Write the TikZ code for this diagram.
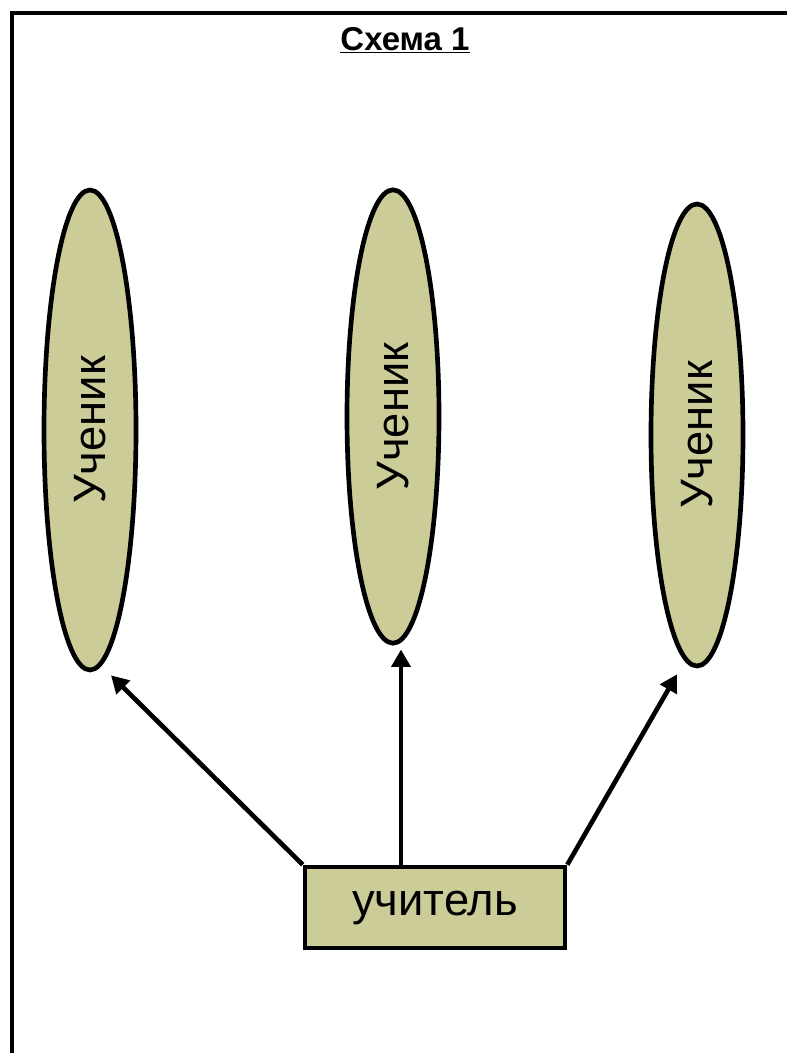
\documentclass[tikz,border=0pt]{standalone}
\usepackage{fontspec}
\setmainfont{Liberation Sans}
\usetikzlibrary{arrows.meta,shapes.geometric}
\definecolor{pupilfill}{RGB}{204,204,153}
\tikzset{
    pupil/.style={ellipse, draw, fill=pupilfill, line width=3.5pt, minimum width=69pt, font=\fontsize{34}{36}\selectfont},
    teacher/.style={rectangle, draw, fill=pupilfill, line width=3.5pt, minimum width=195pt, minimum height=60.75pt, font=\fontsize{34}{36}\selectfont},
    pointer/.style={line width=3.5pt, -{Triangle[length=13pt,width=14pt]}}
}
\begin{document}
\begin{tikzpicture}[x=0.75pt,y=-0.75pt]
    % Page and frame
        \clip (0,0) rectangle (787,1053);
        \fill[white] (0,0) rectangle (787,1053);
        \draw[line width=3.5pt] (12,1100) -- (12,13) -- (820,13);

        % Title
        \node[font=\fontsize{24.75}{28}\selectfont\bfseries] (title) at (405,40) {\underline{Схема 1}};

        % Pupils
        \node[pupil, minimum height=360pt] (uL) at (90,430) {\rotatebox{90}{Ученик}};
        \node[pupil, minimum height=340pt] (uM) at (393,416.5) {\rotatebox{90}{Ученик}};
        \node[pupil, minimum height=346.5pt] (uR) at (697,435) {\rotatebox{90}{Ученик}};

        % Teacher
        \node[teacher] (boss) at (435,907.5) {учитель};

        % Arrow ends
        \coordinate (tipL) at ([shift={(21,3)}]uL.south);
        \coordinate (tipM) at ([shift={(8,4)}]uM.south);
        \coordinate (tipR) at ([shift={(-20,6)}]uR.south);
        \coordinate (fromM) at (401,865);

        % Arrows
        \draw[pointer] (boss.north west) -- (tipL);
        \draw[pointer] (fromM) -- (tipM);
        \draw[pointer] (boss.north east) -- (tipR);
        \end{tikzpicture}
\end{document}
